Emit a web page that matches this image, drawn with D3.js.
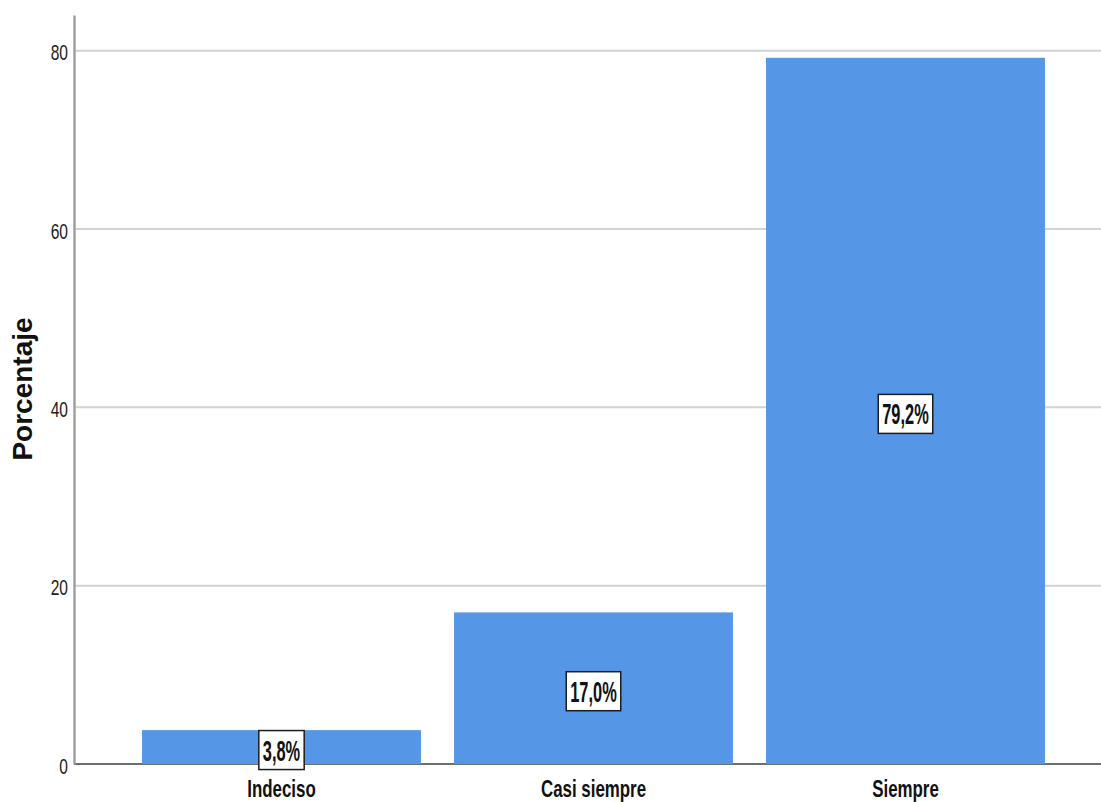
<!DOCTYPE html>
<html>
<head>
<meta charset="utf-8">
<script src="https://cdn.jsdelivr.net/npm/d3@7"></script>
<style>
  html, body { margin: 0; padding: 0; background: #fff; }
  svg { display: block; }
</style>
</head>
<body>
<svg id="chart" width="1101" height="802"></svg>
<script>
// Response categories and their percentages
const categories = ["Indeciso", "Casi siempre", "Siempre"];
const percentages = [3.8, 17.0, 79.2];
const yTicks = [0, 20, 40, 60, 80];
const yTitle = "Porcentaje";

const W = 1101, H = 802;
const svg = d3.select("#chart");
const font = "'Liberation Sans', Arial, Helvetica, sans-serif";

const y = d3.scaleLinear().domain([0, 84]).range([764, 15]);
const x = d3.scaleBand().domain(categories)
  .range([125.5, 1061.5]).paddingInner(0.106).paddingOuter(0.053);

const axisX = 74;

// Gridlines
svg.append("g").selectAll("line").data(yTicks.filter(d => d > 0)).join("line")
  .attr("x1", axisX).attr("x2", W)
  .attr("y1", d => y(d)).attr("y2", d => y(d))
  .attr("stroke", "#d2d2d2").attr("stroke-width", 2);

// Baseline
svg.append("line")
  .attr("x1", axisX).attr("x2", W).attr("y1", y(0)).attr("y2", y(0))
  .attr("stroke", "#6e6e6e").attr("stroke-width", 2);

// Bars
svg.append("g").selectAll("rect").data(categories).join("rect")
  .attr("x", d => x(d))
  .attr("width", x.bandwidth())
  .attr("y", (d, i) => y(percentages[i]))
  .attr("height", (d, i) => y(0) - y(percentages[i]))
  .attr("fill", "#5596e6");

// Y axis
const yAxis = d3.axisLeft(y).tickValues(yTicks).tickSize(0).tickPadding(6);
const gy = svg.append("g").attr("transform", `translate(${axisX},0)`).call(yAxis);
gy.select(".domain").attr("stroke", "#a0a0a0").attr("stroke-width", 2.5);
gy.selectAll(".tick text").each(function () {
  const t = d3.select(this);
  const tx = +t.attr("x");
  t.attr("x", 0).attr("dy", null).attr("y", 0)
    .attr("transform", `translate(${tx},9) scale(0.82,1.12)`)
    .attr("font-family", font).attr("font-size", 19).attr("fill", "#222")
    .attr("text-anchor", "end");
});

// X axis labels
const xAxis = d3.axisBottom(x).tickSize(0).tickPadding(0);
const gx = svg.append("g").attr("transform", `translate(0,${y(0)})`).call(xAxis);
gx.select(".domain").remove();
gx.selectAll(".tick text").each(function () {
  d3.select(this).attr("y", 0).attr("dy", null)
    .attr("transform", "translate(0,33) scale(0.82,1.16)")
    .attr("font-family", font).attr("font-size", 20.6).attr("font-weight", "bold")
    .attr("fill", "#111").attr("text-anchor", "middle");
});

// Y axis title
svg.append("text")
  .attr("transform", "translate(32,389) rotate(-90)")
  .attr("text-anchor", "middle")
  .attr("font-family", font).attr("font-size", 28).attr("font-weight", "bold")
  .attr("fill", "#111")
  .text(yTitle);

// Value labels in boxes
const labels = svg.append("g").selectAll("g").data(categories).join("g")
  .attr("transform", (d, i) => {
    const cx = x(d) + x.bandwidth() / 2;
    const cy = (y(percentages[i]) + y(0)) / 2 + 3;
    return `translate(${cx},${cy})`;
  });
labels.each(function (d, i) {
  const g = d3.select(this);
  const txt = percentages[i].toFixed(1).replace(".", ",") + "%";
  const rect = g.append("rect").attr("fill", "#fff")
    .attr("stroke", "#1c1c1c").attr("stroke-width", 1.5);
  const t = g.append("text")
    .attr("text-anchor", "middle")
    .attr("transform", "translate(0,10.5) scale(0.82,1.45)")
    .attr("font-family", font).attr("font-size", 20).attr("font-weight", "bold")
    .attr("fill", "#111")
    .text(txt);
  const w = t.node().getComputedTextLength() * 0.82 + 8;
  rect.attr("x", -w / 2).attr("y", -19.5).attr("width", w).attr("height", 39);
});
</script>
</body>
</html>
